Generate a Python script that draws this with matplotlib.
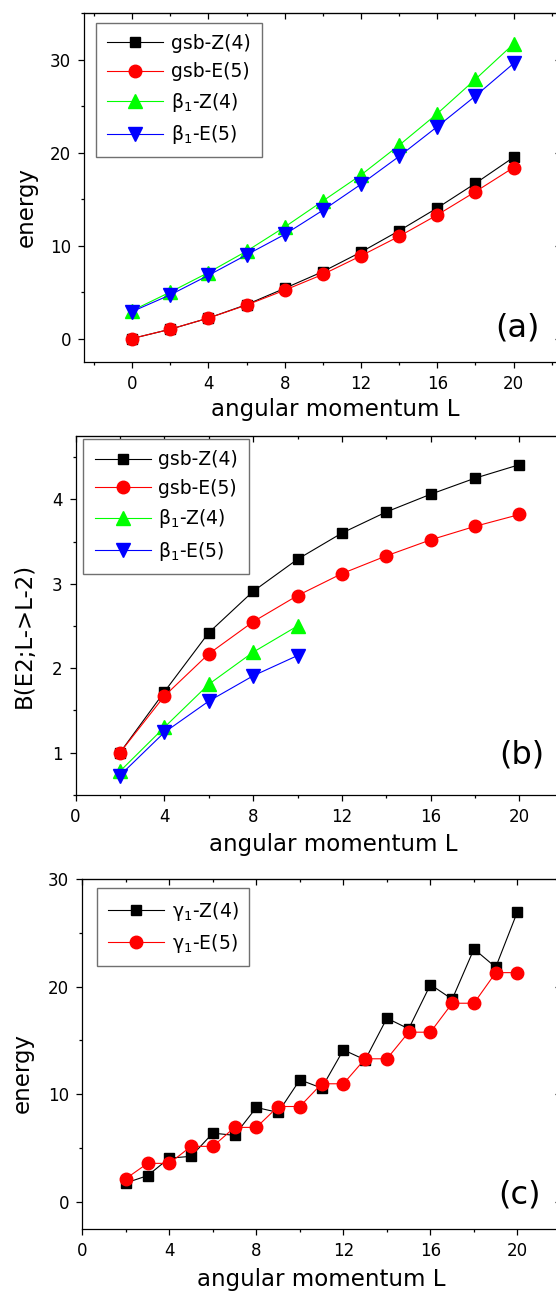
import matplotlib
matplotlib.use("Agg")
from matplotlib import pyplot as plt
from matplotlib.ticker import MultipleLocator

plt.rcParams['font.family'] = ['DejaVu Sans']
plt.rcParams['mathtext.default'] = 'regular'

# ---------------- data ----------------
# (a) energies of ground and beta bands
L_a = [0, 2, 4, 6, 8, 10, 12, 14, 16, 18, 20]
gsb_z4_a = [0, 1.0, 2.2, 3.65, 5.4, 7.2, 9.3, 11.6, 14.05, 16.7, 19.5]
gsb_e5_a = [0, 1.0, 2.2, 3.6, 5.2, 6.9, 8.9, 11.0, 13.3, 15.8, 18.4]
beta_z4_a = [3.0, 5.0, 7.1, 9.4, 12.0, 14.8, 17.6, 20.8, 24.2, 27.9, 31.7]
beta_e5_a = [2.9, 4.7, 6.8, 9.0, 11.2, 13.8, 16.6, 19.6, 22.8, 26.1, 29.6]

# (b) B(E2; L->L-2)
L_b = [2, 4, 6, 8, 10, 12, 14, 16, 18, 20]
gsb_z4_b = [1.0, 1.72, 2.42, 2.91, 3.29, 3.60, 3.85, 4.06, 4.25, 4.41]
gsb_e5_b = [1.0, 1.67, 2.17, 2.55, 2.86, 3.12, 3.33, 3.52, 3.68, 3.82]
L_b_beta = [2, 4, 6, 8, 10]
beta_z4_b = [0.78, 1.30, 1.81, 2.19, 2.50]
beta_e5_b = [0.73, 1.24, 1.61, 1.91, 2.15]

# (c) gamma band energies
L_c = [2, 3, 4, 5, 6, 7, 8, 9, 10, 11, 12, 13, 14, 15, 16, 17, 18, 19, 20]
gamma_z4 = [1.77, 2.45, 4.08, 4.24, 6.40, 6.19, 8.78, 8.32, 11.35, 10.58,
            14.13, 13.2, 17.07, 16.08, 20.19, 18.83, 23.5, 21.8, 26.97]
gamma_e5 = [2.17, 3.59, 3.59, 5.17, 5.17, 6.93, 6.93, 8.87, 8.87, 10.98,
            10.98, 13.3, 13.3, 15.77, 15.77, 18.46, 18.46, 21.3, 21.3]

# ---------------- helpers ----------------
lw = 0.8
sq = dict(marker='s', color='black', ms=7.8, mec='black', lw=lw)
ci = dict(marker='o', color='red', ms=9, mec='red', lw=lw)
up = dict(marker='^', color='#00ff00', ms=10, mec='#00ff00', lw=lw)
dn = dict(marker='v', color='blue', ms=10, mec='blue', lw=lw)


def style_axes(ax, xmaj, xmin, ymaj, ymin):
    ax.xaxis.set_major_locator(MultipleLocator(xmaj))
    ax.xaxis.set_minor_locator(MultipleLocator(xmin))
    ax.yaxis.set_major_locator(MultipleLocator(ymaj))
    ax.yaxis.set_minor_locator(MultipleLocator(ymin))
    ax.tick_params(which='both', direction='out', top=False, right=False,
                   labelsize=12, width=0.9)
    ax.tick_params(which='major', length=4.5, pad=5)
    ax.tick_params(which='minor', length=2.5)
    for s in ax.spines.values():
        s.set_linewidth(0.9)
    # mirror ticks pointing inwards, like Origin
    top = ax.secondary_xaxis('top')
    top.xaxis.set_major_locator(MultipleLocator(xmaj))
    top.xaxis.set_minor_locator(MultipleLocator(xmin))
    top.tick_params(which='both', direction='in', labeltop=False, width=0.9)
    top.tick_params(which='major', length=4.5)
    top.tick_params(which='minor', length=2.5)
    right = ax.secondary_yaxis('right')
    right.yaxis.set_major_locator(MultipleLocator(ymaj))
    right.yaxis.set_minor_locator(MultipleLocator(ymin))
    right.tick_params(which='both', direction='in', labelright=False, width=0.9)
    right.tick_params(which='major', length=4.5)
    right.tick_params(which='minor', length=2.5)


def add_legend(ax, anchor):
    leg = ax.legend(loc='upper left', bbox_to_anchor=anchor, borderaxespad=0,
                    fontsize=13.5, handlelength=3.0, handletextpad=0.4,
                    labelspacing=0.5, borderpad=0.6, fancybox=False,
                    framealpha=1, edgecolor='#707070')
    leg.get_frame().set_linewidth(1.0)


fig = plt.figure(figsize=(5.56, 12.92), dpi=100)

# ---------------- (a) ----------------
ax1 = fig.add_axes([0.1518, 0.720, 0.8576, 0.2697])
ax1.plot(L_a, gsb_z4_a, label='gsb-Z(4)', **sq)
ax1.plot(L_a, gsb_e5_a, label='gsb-E(5)', **ci)
ax1.plot(L_a, beta_z4_a, label='β$_1$-Z(4)', **up)
ax1.plot(L_a, beta_e5_a, label='β$_1$-E(5)', **dn)
ax1.set_xlim(-2.5, 22.5)
ax1.set_ylim(-2.5, 35)
style_axes(ax1, 4, 2, 10, 5)
ax1.set_xlabel('angular momentum L', fontsize=16.5)
ax1.set_ylabel('energy', fontsize=16.5)
ax1.xaxis.set_label_coords(0.527, -0.104)
ax1.yaxis.set_label_coords(-0.097, 0.445)
ax1.text(0.954, 0.096, '(a)', transform=ax1.transAxes, fontsize=23,
         ha='right', va='center')
add_legend(ax1, (0.0237, 0.973))

# ---------------- (b) ----------------
ax2 = fig.add_axes([0.1358, 0.3847, 0.8784, 0.2779])
ax2.plot(L_b, gsb_z4_b, label='gsb-Z(4)', **sq)
ax2.plot(L_b, gsb_e5_b, label='gsb-E(5)', **ci)
ax2.plot(L_b_beta, beta_z4_b, label='β$_1$-Z(4)', **up)
ax2.plot(L_b_beta, beta_e5_b, label='β$_1$-E(5)', **dn)
ax2.set_xlim(0, 22)
ax2.set_ylim(0.5, 4.75)
style_axes(ax2, 4, 2, 1, 0.5)
ax2.set_xlabel('angular momentum L', fontsize=16.5)
ax2.set_ylabel('B(E2;L->L-2)', fontsize=16.5)
ax2.xaxis.set_label_coords(0.528, -0.106)
ax2.yaxis.set_label_coords(-0.082, 0.443)
ax2.text(0.960, 0.111, '(b)', transform=ax2.transAxes, fontsize=23,
         ha='right', va='center')
add_legend(ax2, (0.016, 0.991))

# ---------------- (c) ----------------
ax3 = fig.add_axes([0.148, 0.0488, 0.861, 0.2709])
ax3.plot(L_c, gamma_z4, label='γ$_1$-Z(4)', **sq)
ax3.plot(L_c, gamma_e5, label='γ$_1$-E(5)', **ci)
ax3.set_xlim(0, 22)
ax3.set_ylim(-2.5, 30)
style_axes(ax3, 4, 2, 10, 5)
ax3.set_xlabel('angular momentum L', fontsize=16.5)
ax3.set_ylabel('energy', fontsize=16.5)
ax3.xaxis.set_label_coords(0.500, -0.111)
ax3.yaxis.set_label_coords(-0.1015, 0.445)
ax3.text(0.958, 0.097, '(c)', transform=ax3.transAxes, fontsize=23,
         ha='right', va='center')
add_legend(ax3, (0.0297, 0.973))

fig.savefig('out.png', dpi=100)
